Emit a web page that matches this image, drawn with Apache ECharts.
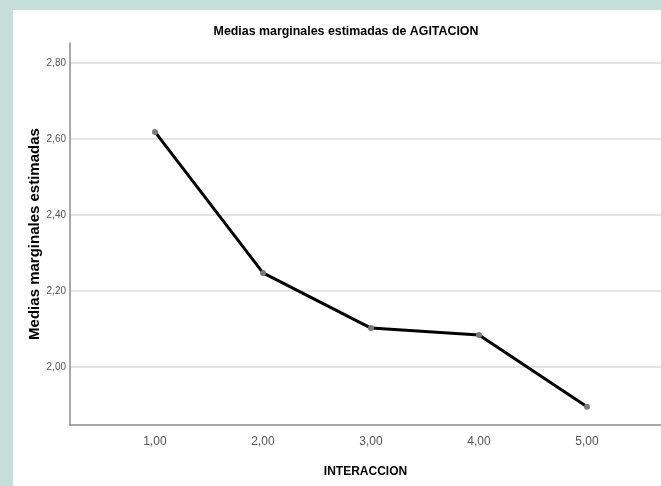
<!DOCTYPE html>
<html>
<head>
<meta charset="utf-8">
<script src="https://cdn.jsdelivr.net/npm/echarts@6/dist/echarts.min.js"></script>
<style>
html,body{margin:0;padding:0;width:661px;height:486px;overflow:hidden;background:#c7dfda;}
#panel{position:absolute;left:13px;top:10px;right:0;bottom:0;background:#ffffff;}
#chart{position:absolute;left:0;top:0;width:661px;height:486px;}
</style>
</head>
<body>
<div id="panel"></div>
<div id="chart"></div>
<script>
var categories = [1, 2, 3, 4, 5];
var xTickLabels = ['1,00', '2,00', '3,00', '4,00', '5,00'];
var yTicks = [2.0, 2.2, 2.4, 2.6, 2.8];
var yTickLabels = ['2,00', '2,20', '2,40', '2,60', '2,80'];
var means = [2.618, 2.247, 2.102, 2.084, 1.895];

var chart = echarts.init(document.getElementById('chart'), null, {renderer: 'canvas'});
var sans = '"Liberation Sans", Arial, sans-serif';
var option = {
  backgroundColor: 'transparent',
  animation: false,
  graphic: [{
    type: 'text',
    x: 346, y: 32,
    style: {
      text: 'Medias marginales estimadas de AGITACION',
      font: 'bold 12.4px "Liberation Sans", Arial, sans-serif',
      fill: '#000',
      textAlign: 'center',
      textVerticalAlign: 'middle'
    }
  }],
  grid: {left: 70, top: 43, right: 0, bottom: 61, containLabel: false},
  xAxis: {
    type: 'value',
    min: 0.213, max: 5.685,
    name: 'INTERACCION',
    nameLocation: 'middle',
    nameGap: 41,
    nameTextStyle: {fontFamily: sans, fontWeight: 'bold', fontSize: 12, color: '#000'},
    axisLine: {show: true, lineStyle: {color: '#8c8c8c', width: 1.5}},
    axisTick: {show: false, customValues: categories},
    splitLine: {show: false},
    axisLabel: {
      customValues: categories,
      formatter: function (v) { return xTickLabels[categories.indexOf(Math.round(v))]; },
      fontFamily: sans, fontSize: 12, color: '#555', margin: 11
    }
  },
  yAxis: {
    type: 'value',
    min: 1.847, max: 2.852,
    name: 'Medias marginales estimadas',
    nameLocation: 'middle',
    nameMoveOverlap: false,
    nameGap: 28,
    nameRotate: 90,
    nameTextStyle: {fontFamily: sans, fontWeight: 'bold', fontSize: 15, color: '#000'},
    axisLine: {show: true, lineStyle: {color: '#8c8c8c', width: 1.5}},
    axisTick: {show: false, customValues: yTicks},
    splitLine: {show: true, lineStyle: {color: '#dadada', width: 1.5}},
    axisLabel: {
      customValues: yTicks,
      formatter: function (v) {
        var i = yTicks.findIndex(function (t) { return Math.abs(t - v) < 1e-6; });
        return i >= 0 ? yTickLabels[i] : '';
      },
      fontFamily: sans, fontSize: 10, color: '#555', margin: 4
    }
  },
  series: [{
    type: 'line',
    data: categories.map(function (c, i) { return [c, means[i]]; }),
    lineStyle: {color: '#000', width: 3},
    symbol: 'circle',
    symbolSize: 6,
    itemStyle: {color: '#7a7a7a'},
    z: 3
  }]
};
chart.setOption(option);
</script>
</body>
</html>
